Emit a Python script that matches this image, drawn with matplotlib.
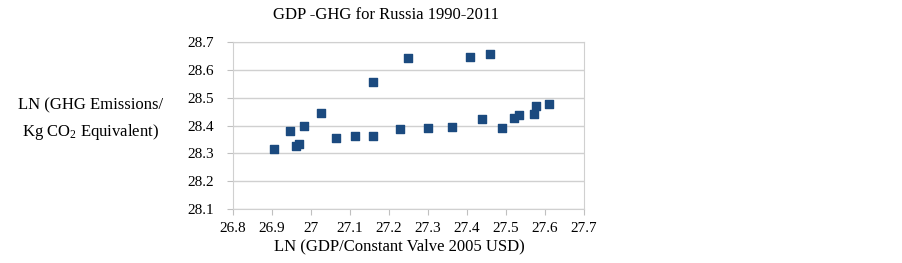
import numpy as np
import matplotlib.pyplot as plt

plt.rcParams['font.family'] = ['Liberation Serif', 'DejaVu Serif']
plt.rcParams['mathtext.fontset'] = 'custom'
plt.rcParams['mathtext.rm'] = 'Liberation Serif'
plt.rcParams['mathtext.it'] = 'Liberation Serif:italic'

# LN(GDP) and LN(GHG)
ln_gdp = [26.906, 26.947, 26.961, 26.970, 26.983, 27.026, 27.064, 27.113, 27.159,
          27.159, 27.229, 27.250, 27.300, 27.361, 27.408, 27.438, 27.460, 27.491,
          27.520, 27.533, 27.571, 27.576, 27.610]
ln_ghg = [28.316, 28.379, 28.326, 28.333, 28.400, 28.445, 28.356, 28.362, 28.363,
          28.557, 28.386, 28.642, 28.390, 28.395, 28.645, 28.423, 28.657, 28.390,
          28.428, 28.436, 28.441, 28.471, 28.477]
xticks = [26.8, 26.9, 27.0, 27.1, 27.2, 27.3, 27.4, 27.5, 27.6, 27.7]
xtick_labels = ['26.8', '26.9', '27', '27.1', '27.2', '27.3', '27.4', '27.5', '27.6', '27.7']
yticks = [28.1, 28.2, 28.3, 28.4, 28.5, 28.6, 28.7]

fig = plt.figure(figsize=(9.03, 2.63), dpi=100)
ax = fig.add_axes([0.2580, 0.2053, 0.3887, 0.635])

ax.scatter(ln_gdp, ln_ghg, marker='s', s=30, color='#1b4a7f', zorder=3)

ax.set_xlim(26.8, 27.7)
ax.set_ylim(28.1, 28.7)
ax.set_xticks(xticks)
ax.set_xticklabels(xtick_labels)
ax.set_yticks(yticks)
ax.set_yticklabels([f'{v:.1f}' for v in yticks])
ax.grid(axis='y', color='#d0d0d0', linewidth=1)
ax.set_axisbelow(True)
for s in ax.spines.values():
    s.set_color('#d0d0d0')
ax.tick_params(axis='both', colors='#c0c0c0', labelcolor='black', labelsize=11, length=4)
ax.tick_params(axis='x', pad=5.5)
ax.tick_params(axis='y', pad=10)

fig.text(0.428, 0.943, 'GDP -GHG for Russia 1990-2011', fontsize=12, ha='center', va='center')
fig.text(0.442, 0.064, 'LN (GDP/Constant Valve 2005 USD)', fontsize=12, ha='center', va='center')
fig.text(0.10, 0.60, 'LN (GHG Emissions/', fontsize=12, ha='center', va='center')
fig.text(0.10, 0.498, 'Kg CO$_{\\mathrm{2}}$ Equivalent)', fontsize=12, ha='center', va='center')

fig.savefig('out.png', dpi=100)
